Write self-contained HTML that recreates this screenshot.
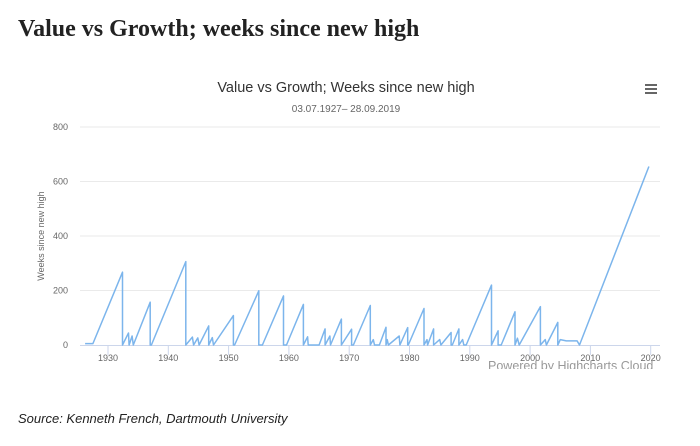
<!DOCTYPE html>
<html><head><meta charset="utf-8"><style>
body{margin:0;width:700px;height:446px;background:#fff;overflow:hidden;position:relative;font-family:"Liberation Sans",sans-serif}
#title{position:absolute;left:18px;top:16px;font-family:"Liberation Serif",serif;font-weight:bold;font-size:24px;color:#222;margin:0}
#source{position:absolute;left:18px;top:411px;font-style:italic;font-size:13px;color:#222}
svg{position:absolute;left:0;top:0}
</style></head><body>
<h1 id="title">Value vs Growth; weeks since new high</h1>
<svg id="chart" width="700" height="446"></svg>
<div id="source">Source: Kenneth French, Dartmouth University</div>
<script>
const years = [1926.2,1927.5,1932.4,1932.4,1933.4,1933.5,1934.0,1934.2,1937.0,1937.0,1937.2,1942.9,1942.9,1944.0,1944.2,1944.9,1945.1,1946.7,1946.7,1947.3,1947.5,1950.8,1950.8,1951.0,1955.0,1955.0,1955.6,1959.1,1959.1,1959.6,1962.4,1962.4,1963.1,1963.2,1965.0,1966.0,1966.0,1966.8,1966.9,1968.7,1968.7,1970.4,1970.4,1970.7,1973.5,1973.5,1974.0,1974.2,1975.0,1976.1,1976.1,1976.3,1976.5,1978.3,1978.4,1979.7,1979.7,1979.8,1982.4,1982.4,1982.9,1983.0,1984.0,1984.0,1985.0,1985.2,1986.9,1986.9,1987.1,1988.2,1988.2,1988.8,1989.0,1989.4,1993.6,1993.6,1994.7,1994.7,1995.2,1997.5,1997.5,1997.9,1998.2,2001.7,2001.7,2002.5,2002.7,2004.6,2004.6,2005.0,2006.0,2007.8,2008.2,2019.7];
const values = [5,5,267,0,44,0,33,0,157,0,0,306,0,29,0,26,0,70,0,27,0,108,0,0,199,0,0,180,0,0,149,0,30,0,0,59,0,33,0,95,0,58,0,0,145,0,20,0,0,65,0,20,0,33,0,64,0,0,134,0,20,0,59,0,20,0,46,0,0,59,0,20,0,0,220,0,52,0,0,122,0,25,0,141,0,20,0,83,0,20,15,15,0,655];
const yTicks = [0,200,400,600,800];
const xTicks = [1930,1940,1950,1960,1970,1980,1990,2000,2010,2020];
const NS="http://www.w3.org/2000/svg";
const svg=document.getElementById('chart');
const X=y=>108+(y-1930)*6.03;
const Y=v=>345-v*0.2725;
function mk(tag,attrs,txt){const e=document.createElementNS(NS,tag);for(const k in attrs)e.setAttribute(k,attrs[k]);if(txt!==undefined)e.textContent=txt;svg.appendChild(e);return e;}
let t=mk('text',{x:346,y:92,'text-anchor':'middle','font-size':14.5,fill:'#333'},'Value vs Growth; Weeks since new high');

t=mk('text',{x:346,y:112,'text-anchor':'middle','font-size':10,fill:'#666'},'03.07.1927– 28.09.2019');

const menu=mk('g',{});

[85,89,93].forEach(yy=>{const r=document.createElementNS(NS,'rect');r.setAttribute('x',645);r.setAttribute('y',yy-1);r.setAttribute('width',12);r.setAttribute('height',2);r.setAttribute('fill','#666');menu.appendChild(r);});
yTicks.forEach(v=>{
  if(v>0){const g=mk('line',{x1:80,x2:660,y1:Y(v),y2:Y(v),stroke:'#eaeaea','stroke-width':1});
  }
  const l=mk('text',{x:68,y:Y(v)+3,'text-anchor':'end','font-size':9,fill:'#666'},v);
  
});
const ax=mk('line',{x1:80,x2:660,y1:345.5,y2:345.5,stroke:'#ccd6eb','stroke-width':1});

xTicks.forEach(yr=>{
  const tk=mk('line',{x1:X(yr),x2:X(yr),y1:345,y2:355,stroke:'#ccd6eb'});
  
  const l=mk('text',{x:X(yr),y:361,'text-anchor':'middle','font-size':9,fill:'#666'},yr);
  
});
const yt=mk('text',{x:44,y:236,'text-anchor':'middle','font-size':9,fill:'#666',transform:'rotate(-90 44 236)'},'Weeks since new high');

const d=years.map((yr,i)=>(i?'L':'M')+X(yr).toFixed(1)+','+Y(values[i]).toFixed(1)).join('');
const line=mk('path',{d:d,fill:'none',stroke:'#7cb5ec','stroke-width':1.5,'stroke-linejoin':'round'});

const clip=mk('clipPath',{id:'cp'});const cr=document.createElementNS(NS,'rect');cr.setAttribute('x',0);cr.setAttribute('y',0);cr.setAttribute('width',700);cr.setAttribute('height',369);clip.appendChild(cr);
const cred=mk('text',{x:488,y:370,'font-size':12.5,fill:'#999','clip-path':'url(#cp)'},'Powered by Highcharts Cloud');

</script>
</body></html>
